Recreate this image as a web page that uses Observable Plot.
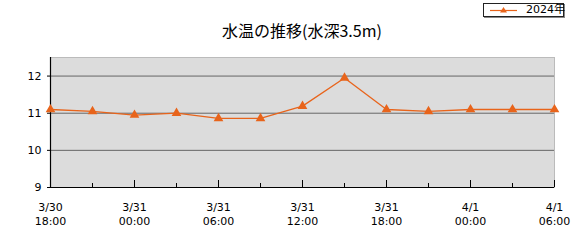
<!DOCTYPE html>
<html><head><meta charset="utf-8">
<script src="https://cdn.jsdelivr.net/npm/d3@7"></script>
<script src="https://cdn.jsdelivr.net/npm/@observablehq/plot@0.6"></script>
<style>
body{margin:0;background:#fff;}
#wrap{position:relative;width:581px;height:245px;font-family:"DejaVu Sans",sans-serif;}
#title{position:absolute;left:0;width:604px;top:19px;text-align:center;font-family:"Noto Sans CJK JP",sans-serif;font-size:16px;line-height:22px;color:#000;}
#legend{position:absolute;left:483px;top:3px;width:79px;height:12px;border:1.5px solid #222;box-shadow:1px 1px 0 #888;background:#fff;font-size:11px;line-height:12px;font-family:"DejaVu Sans","Noto Sans CJK JP",sans-serif;white-space:nowrap;}
</style></head>
<body><div id="wrap"><div id="chart"></div><div id="title">水温の推移(水深3.5m)</div><div id="legend"><svg width="79" height="12" style="position:absolute;left:0;top:0"><line x1="6" x2="33" y1="6.5" y2="6.5" stroke="#e8641b" stroke-width="1.2"/><path d="M19.5,3 L23,8.5 L16,8.5 Z" fill="#e8641b"/></svg><span id="lgtext" style="position:absolute;left:42px;top:0px;"></span></div></div>
<script>
const times = ["2024-03-30T18:00","2024-03-30T21:00","2024-03-31T00:00","2024-03-31T03:00","2024-03-31T06:00","2024-03-31T09:00","2024-03-31T12:00","2024-03-31T15:00","2024-03-31T18:00","2024-03-31T21:00","2024-04-01T00:00","2024-04-01T03:00","2024-04-01T06:00"];
const temps = [11.1, 11.05, 10.95, 11.0, 10.86, 10.86, 11.19, 11.95, 11.1, 11.05, 11.1, 11.1, 11.1];
const yTicks = [9, 10, 11, 12];
const majorTicks = ["2024-03-30T18:00","2024-03-31T00:00","2024-03-31T06:00","2024-03-31T12:00","2024-03-31T18:00","2024-04-01T00:00","2024-04-01T06:00"];
const seriesName = "2024年";

document.getElementById("lgtext").textContent = seriesName;
const parse = s => new Date(s + ":00Z");
const data = times.map((t, i) => ({t: parse(t), v: temps[i]}));
const majors = majorTicks.map(parse);
const minors = times.map(parse).filter(d => !majors.some(m => +m === +d));
const fmt = d => `${d.getUTCMonth()+1}/${d.getUTCDate()}\n${String(d.getUTCHours()).padStart(2,"0")}:${String(d.getUTCMinutes()).padStart(2,"0")}`;
const color = "#e8641b";
const mt = 57, mb = 58, ph = 245 - mt - mb;

const chart = Plot.plot({
  width: 581, height: 245,
  marginTop: mt, marginBottom: mb, marginLeft: 50, marginRight: 27,
  style: {fontFamily: "DejaVu Sans, sans-serif", fontSize: "11px", color: "#000", background: "transparent"},
  x: {type: "utc", domain: [majors[0], majors[majors.length-1]], label: null},
  y: {domain: [9, 12.5], label: null},
  marks: [
    Plot.frame({fill: "#dcdcdc", stroke: "#bbb"}),
    Plot.ruleY(yTicks.filter(v => v > 9), {stroke: "#666", strokeWidth: 1}),
    Plot.ruleY([9], {stroke: "#000", strokeWidth: 1.2}),
    Plot.ruleX([majors[0]], {stroke: "#000", strokeWidth: 1.2}),
    Plot.tickX(majors, {x: d => d, stroke: "#000", insetTop: ph - 7}),
    Plot.tickX(minors, {x: d => d, stroke: "#000", insetTop: ph - 4}),
    Plot.axisY(yTicks, {tickSize: 3, tickPadding: 6, stroke: "#000", fontSize: 11, label: null}),
    Plot.axisX(majors, {tickSize: 0, tickPadding: 14, tickFormat: fmt, fontSize: 11, lineHeight: 1.27, label: null}),
    Plot.line(data, {x: "t", y: "v", stroke: color, strokeWidth: 1.3}),
    Plot.dot(data, {x: "t", y: "v", symbol: "triangle", fill: color, r: 3.6})
  ]
});
document.getElementById("chart").appendChild(chart);
</script>
</body></html>
